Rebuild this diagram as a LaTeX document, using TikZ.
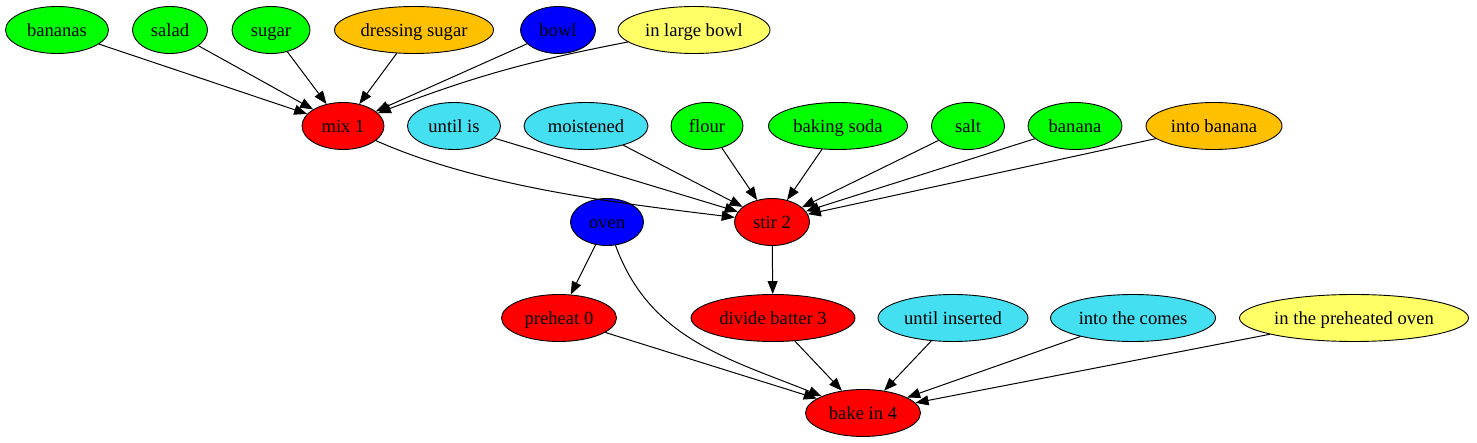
\documentclass[tikz,border=0pt]{standalone}
\usepackage{fontspec}
\setmainfont{Liberation Serif}
\usetikzlibrary{shapes.geometric,arrows.meta}
\definecolor{ingredient}{HTML}{00FF00}
\definecolor{modifier}{HTML}{FFC000}
\definecolor{tool}{HTML}{0000FF}
\definecolor{place}{HTML}{FFFF66}
\definecolor{condition}{HTML}{44DFF1}
\definecolor{action}{HTML}{FF0000}
\begin{document}
\begin{tikzpicture}[x=1pt,y=-1pt,
        every node/.style={ellipse,draw,line width=0.9pt,inner xsep=-6pt,inner ysep=0pt,
            minimum height=47pt,text height=14pt,text depth=1pt,
            font=\fontsize{18.6}{20}\selectfont},
        edge/.style={-{Triangle[length=13pt,width=10pt]},line width=1pt}]
        \useasboundingbox (0,0) rectangle (1477,443);

        % Top row
        \node[fill=ingredient,minimum width=103pt] (bananas) at (57,30) {bananas};
        \node[fill=ingredient,minimum width=75pt] (salad) at (170,30) {salad};
        \node[fill=ingredient,minimum width=78pt] (sugar) at (271,30) {sugar};
        \node[fill=modifier,minimum width=159pt] (dressing) at (414,30) {dressing sugar};
        \node[fill=tool,minimum width=75pt] (bowl) at (558,30) {bowl};
        \node[fill=place,minimum width=152pt] (largebowl) at (694,30) {in large bowl};

        % Second row
        \node[fill=action,minimum width=82pt] (mix) at (343,126) {mix 1};
        \node[fill=condition,minimum width=93pt] (untilis) at (454,126) {until is};
        \node[fill=condition,minimum width=124pt] (moistened) at (586,126) {moistened};
        \node[fill=ingredient,minimum width=72pt] (flour) at (707,126) {flour};
        \node[fill=ingredient,minimum width=139pt] (soda) at (838,126) {baking soda};
        \node[fill=ingredient,minimum width=73pt] (salt) at (968,126) {salt};
        \node[fill=ingredient,minimum width=94pt] (banana) at (1075,126) {banana};
        \node[fill=modifier,minimum width=136pt] (intobanana) at (1214,126) {into banana};

        % Third row
        \node[fill=tool,minimum width=73pt] (oven) at (607,222) {oven};
        \node[fill=action,minimum width=75pt] (stir) at (772,222) {stir 2};

        % Fourth row
        \node[fill=action,minimum width=115pt] (preheat) at (559,318) {preheat 0};
        \node[fill=action,minimum width=164pt] (divide) at (773,318) {divide batter 3};
        \node[fill=condition,minimum width=150pt] (inserted) at (953,318) {until inserted};
        \node[fill=condition,minimum width=165pt] (comes) at (1133,318) {into the comes};
        \node[fill=place,minimum width=229pt] (preheated) at (1354,318) {in the preheated oven};

        % Bottom
        \node[fill=action,minimum width=115pt] (bake) at (863,413) {bake in 4};

        % Edges into mix 1
        \foreach \src in {bananas,salad,sugar,dressing,bowl}
            \draw[edge] (\src) -- (mix);
        \draw[edge] (largebowl) to[bend right=5] (mix);

        % Edges into stir 2
        \draw[edge] (mix) to[out=-24,in=173,looseness=0.8] (stir);
        \foreach \src in {untilis,moistened,flour,soda,salt,banana,intobanana}
            \draw[edge] (\src) -- (stir);

        % Edges into bake in 4
        \draw[edge] (oven) -- (preheat);
        \draw[edge] (stir) -- (divide);
        \draw[edge] (oven) to[out=-70,in=158] (bake);
        \foreach \src in {preheat,divide,inserted,comes,preheated}
            \draw[edge] (\src) -- (bake);
    \end{tikzpicture}
\end{document}
